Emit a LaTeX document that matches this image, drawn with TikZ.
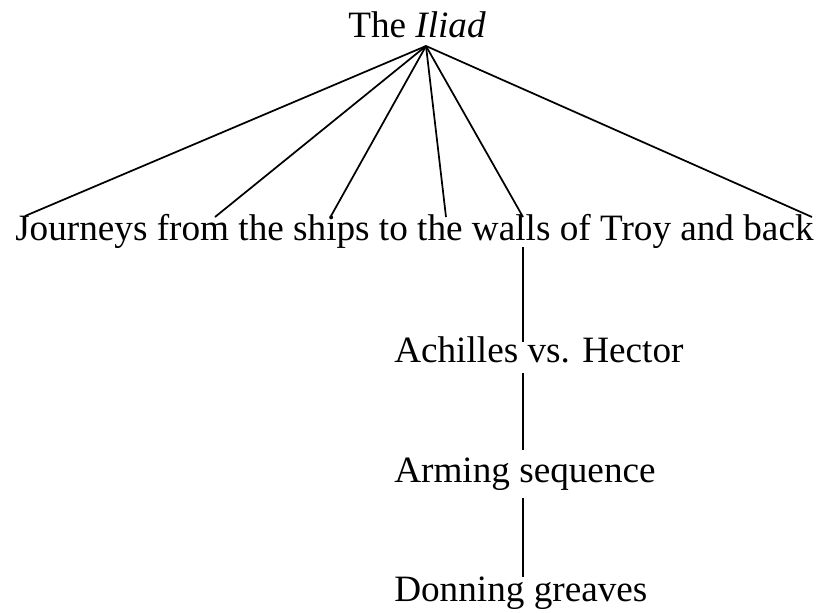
\documentclass[tikz,border=0pt]{standalone}
\usepackage{fontspec}
\setmainfont{Liberation Serif}
\begin{document}
\begin{tikzpicture}[x=0.75pt,y=-0.75pt,
  label/.style={anchor=base west,inner sep=0pt,font=\fontsize{27.9}{33}\selectfont},
  branch/.style={line width=1.3pt}]
\useasboundingbox (0,0) rectangle (820,612);

% tree labels
\node[label] (iliad)    at (348,37)  {The \textit{Iliad}};
\node[label] (journeys) at (15,240)  {Journeys from the ships to the walls of Troy and back};
\node[label] (achilles) at (394,362) {Achilles vs. Hector};
\node[label] (arming)   at (394,482) {Arming sequence};
\node[label] (donning)  at (394,601) {Donning greaves};

% branch points
\coordinate (top) at (426,46);
\coordinate (j1) at (25,216);
\coordinate (j2) at (215,217);
\coordinate (j3) at (331,216);
\coordinate (j4) at (446,217);
\coordinate (j5) at (523,217);
\coordinate (j6) at (812,217);
\coordinate (v1a) at (523,247);
\coordinate (v1b) at (523,342);
\coordinate (v2a) at (523,373);
\coordinate (v2b) at (523,450);
\coordinate (v3a) at (523,498);
\coordinate (v3b) at (523,577);

% fan from the root to the first level
\foreach \j in {j1,j2,j3,j4,j5,j6}
  \draw[branch] (top) -- (\j);

% single chain below
\draw[branch] (v1a) -- (v1b);
\draw[branch] (v2a) -- (v2b);
\draw[branch] (v3a) -- (v3b);
\end{tikzpicture}
\end{document}
